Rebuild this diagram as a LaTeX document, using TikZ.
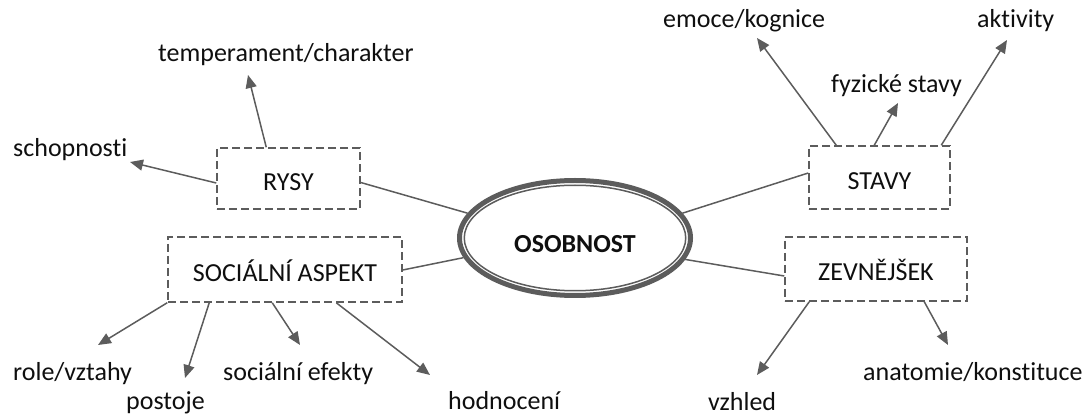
\documentclass[tikz,border=0pt]{standalone}
\usepackage{fontspec}
\setmainfont{Carlito}[Ligatures=NoCommon]
\usetikzlibrary{arrows.meta,calc,shapes.geometric}
\definecolor{linegray}{RGB}{92,92,92}
\definecolor{txt}{RGB}{15,15,15}
\begin{document}
\begin{tikzpicture}[x=1pt,y=-1pt,
  every node/.style={font=\fontsize{26}{30}\selectfont, text=txt},
  lbl/.style={anchor=base west, inner sep=0pt},
  dbox/.style={draw=linegray, line width=1.5pt, dash pattern=on 8pt off 4pt,
     inner sep=0pt, text height=24pt, text depth=0pt},
  conn/.style={draw=linegray, line width=1.5pt},
  arr/.style={draw=linegray, line width=1.5pt, -{Triangle[length=13pt,width=11pt]}, fill=linegray}]
\useasboundingbox (0,0) rectangle (1089,419);

% boxes
\node[dbox, minimum width=143pt, minimum height=61pt] (rysy) at (288.5,178.5) {RYSY};
\node[dbox, minimum width=234pt, minimum height=65pt] (sa) at (285,269.5) {SOCIÁLNÍ ASPEKT};
\node[dbox, minimum width=141pt, minimum height=63pt] (stavy) at (879.5,177.5) {STAVY};
\node[dbox, minimum width=182pt, minimum height=64pt] (zev) at (876,269) {ZEVNĚJŠEK};

% central ellipse
\node[ellipse, draw=linegray, line width=5pt, fill=white, inner sep=0pt,
  minimum width=231pt, minimum height=115pt, text height=30pt, text depth=0pt,
  font=\fontsize{26}{30}\selectfont\bfseries] (osob) at (575,238) {OSOBNOST};
\draw[linegray, line width=1.5pt] (osob.center) ellipse [x radius=110.75, y radius=52.75];

% connectors box - ellipse
\draw[conn] ($(rysy.east)+(0,4)$) -- (osob.167);
\draw[conn] ($(sa.east)+(0,0.5)$) -- (osob.190);
\draw[conn] ($(stavy.west)+(0,-4.5)$) -- (osob.13);
\draw[conn] ($(zev.west)+(0,7)$) -- (osob.349);

% labels
\node[lbl] (schop) at (13,157) {schopnosti};
\node[lbl] (temp) at (158,62) {temperament/charakter};
\node[lbl] (emoce) at (663,28) {emoce/kognice};
\node[lbl] (fyz) at (831,93) {fyzické stavy};
\node[lbl] (akt) at (977,28) {aktivity};
\node[lbl] (role) at (13,380) {role/vztahy};
\node[lbl] (post) at (126,409) {postoje};
\node[lbl] (socef) at (223,380) {sociální efekty};
\node[lbl] (hodn) at (448,409) {hodnocení};
\node[lbl] (vzh) at (708,410) {vzhled};
\node[lbl] (anat) at (863,380) {anatomie/konstituce};

% arrow tips
\coordinate (tschop) at (130,162);
\coordinate (ttemp) at (248,75);
\coordinate (temoce) at (757,38);
\coordinate (tfyz) at (898,103);
\coordinate (takt) at (1007,40);
\coordinate (trole) at (98,345);
\coordinate (tpost) at (185,378);
\coordinate (tsocef) at (300,345);
\coordinate (thodn) at (430,375);
\coordinate (tvzh) at (757,375);
\coordinate (tanat) at (948,345);

% arrows
\draw[arr] ($(rysy.west)+(0,4.5)$) -- (tschop);
\draw[arr] ($(rysy.north west)+(50,0)$) -- (ttemp);
\draw[arr] ($(stavy.north west)+(28,0)$) -- (temoce);
\draw[arr] ($(stavy.north west)+(66,0)$) -- (tfyz);
\draw[arr] ($(stavy.north west)+(133,0)$) -- (takt);
\draw[arr] ($(sa.south west)+(0,0)$) -- (trole);
\draw[arr] ($(sa.south west)+(42,0)$) -- (tpost);
\draw[arr] ($(sa.south west)+(105,0)$) -- (tsocef);
\draw[arr] ($(sa.south west)+(169,0)$) -- (thodn);
\draw[arr] ($(zev.south west)+(25,0)$) -- (tvzh);
\draw[arr] ($(zev.south west)+(140,0)$) -- (tanat);
\end{tikzpicture}
\end{document}
